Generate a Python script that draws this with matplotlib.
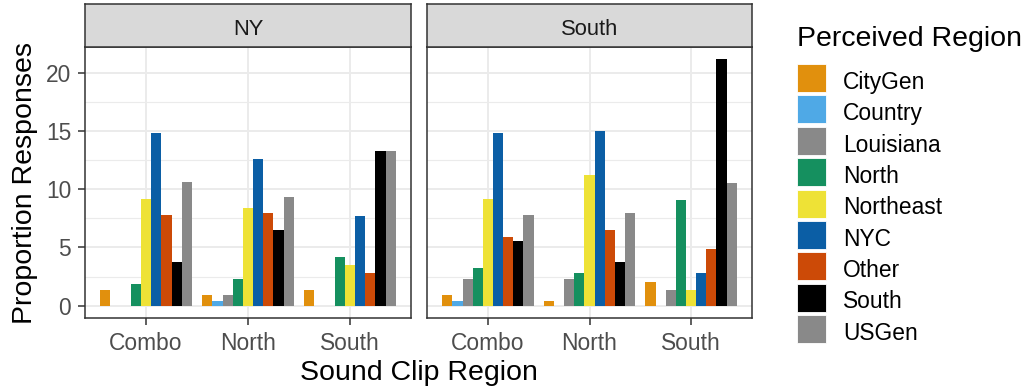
import matplotlib
matplotlib.use("Agg")
import matplotlib.pyplot as plt
from matplotlib.patches import Rectangle
from matplotlib.ticker import MultipleLocator, FixedLocator
import numpy as np

# ---- data -------------------------------------------------------------
clip_regions = ["Combo", "North", "South"]
perceived_regions = ["CityGen", "Country", "Louisiana", "North", "Northeast",
                     "NYC", "Other", "South", "USGen"]
region_colors = ["#E1900D", "#4FA9E6", "#898989", "#15905F", "#EEE236",
                 "#0B5EA5", "#CC4A07", "#000000", "#898989"]
facets = ["NY", "South"]

# proportion of responses per perceived region, one list per sound clip region
ny_combo = [1.37, 0, 0, 1.83, 9.20, 14.84, 7.79, 3.72, 10.63]
ny_north = [0.89, 0.43, 0.89, 2.29, 8.40, 12.60, 7.94, 6.50, 9.34]
ny_south = [1.37, 0, 0, 4.18, 3.47, 7.71, 2.78, 13.32, 13.32]
south_combo = [0.89, 0.43, 2.29, 3.24, 9.20, 14.84, 5.93, 5.59, 7.79]
south_north = [0.43, 0, 2.29, 2.78, 11.20, 14.96, 6.50, 3.72, 7.94]
south_south = [2.06, 0, 1.37, 9.08, 1.37, 2.78, 4.87, 21.15, 10.52]

facet_values = {
    "NY": [ny_combo, ny_north, ny_south],
    "South": [south_combo, south_north, south_south],
}

# ---- figure layout (pixel helpers) ------------------------------------
W, H, DPI = 1027, 389, 100
FONT = "Liberation Sans"
BASE = 20.5
SMALL = 16.4
DARK = "#333333"

plt.rcParams["font.family"] = [FONT, "DejaVu Sans"]

fig = plt.figure(figsize=(W / DPI, H / DPI), dpi=DPI)
fig.patch.set_facecolor("white")


def rect(l, t, r, b):
    return [l / W, 1 - b / H, (r - l) / W, (b - t) / H]


def fx(x):
    return x / W


def fy(y):
    return 1 - y / H


ymax = max(max(v) for rows in facet_values.values() for v in rows)
ylims = (-0.05 * ymax, 1.05 * ymax)

panels = [(85, 411), (427, 752)]
PT, PB, ST = 47, 318, 4
n = len(perceived_regions)
bar_w = 0.9 / n

for fi, (facet, (pl, pr)) in enumerate(zip(facets, panels)):
    ax = fig.add_axes(rect(pl, PT, pr, PB))
    ax.set_facecolor("white")
    rows = facet_values[facet]
    xs = np.arange(len(clip_regions))
    for k in range(n):
        heights = np.array([rows[g][k] for g in range(len(clip_regions))])
        pos = xs - 0.45 + bar_w * (k + 0.5)
        mask = heights > 0
        ax.bar(pos[mask], heights[mask], width=bar_w, color=region_colors[k],
               linewidth=0, zorder=3)
    ax.set_xlim(-0.6, len(clip_regions) - 0.4)
    ax.set_ylim(*ylims)
    ax.set_xticks(xs)
    ax.set_xticklabels(clip_regions)
    ax.yaxis.set_major_locator(MultipleLocator(5))
    ax.yaxis.set_minor_locator(FixedLocator([2.5, 7.5, 12.5, 17.5]))
    ax.set_axisbelow(True)
    ax.grid(which="major", color="#EBEBEB", linewidth=1.4, zorder=0)
    ax.grid(which="minor", axis="y", color="#EBEBEB", linewidth=0.8, zorder=0)
    for sp in ax.spines.values():
        sp.set_color(DARK)
        sp.set_linewidth(1.1)
        sp.set_zorder(5)
    ax.tick_params(axis="both", which="major", length=5, width=1.1, color=DARK,
                   labelsize=SMALL, labelcolor="#4D4D4D")
    ax.tick_params(axis="x", pad=5.2)
    ax.tick_params(axis="y", pad=5.0)
    ax.tick_params(which="minor", length=0)
    if fi > 0:
        ax.tick_params(axis="y", left=False, labelleft=False)

    # facet strip
    sax = fig.add_axes(rect(pl, ST, pr, PT))
    sax.set_facecolor("#D9D9D9")
    sax.set_xticks([])
    sax.set_yticks([])
    for sp in sax.spines.values():
        sp.set_color(DARK)
        sp.set_linewidth(1.1)
    fig.text(fx((pl + pr) / 2), fy(35), facet, ha="center", va="baseline",
             fontsize=15.8, color="#1A1A1A")

# axis titles
fig.text(fx(32), fy(182.5), "Proportion Responses", rotation=90,
         rotation_mode="anchor", ha="center", va="baseline",
         fontsize=BASE, color="black")
fig.text(fx((85 + 752) / 2), fy(380), "Sound Clip Region", ha="center",
         va="baseline", fontsize=BASE, color="black")

# legend
fig.text(fx(797), fy(45.7), "Perceived Region", ha="left", va="baseline",
         fontsize=BASE, color="black")
key_top, key_step, key_w, key_h = 64, 31.4, 28.5, 28
for i, (lab, col) in enumerate(zip(perceived_regions, region_colors)):
    top = key_top + i * key_step
    fig.patches.append(Rectangle((fx(797), fy(top + key_h)), key_w / W, key_h / H,
                                 transform=fig.transFigure, facecolor=col,
                                 edgecolor="white", linewidth=0.6))
    fig.text(fx(843), fy(top + key_h / 2 + 10.7), lab, ha="left",
             va="baseline", fontsize=SMALL, color="black")

fig.savefig("out.png", dpi=DPI, facecolor="white")
